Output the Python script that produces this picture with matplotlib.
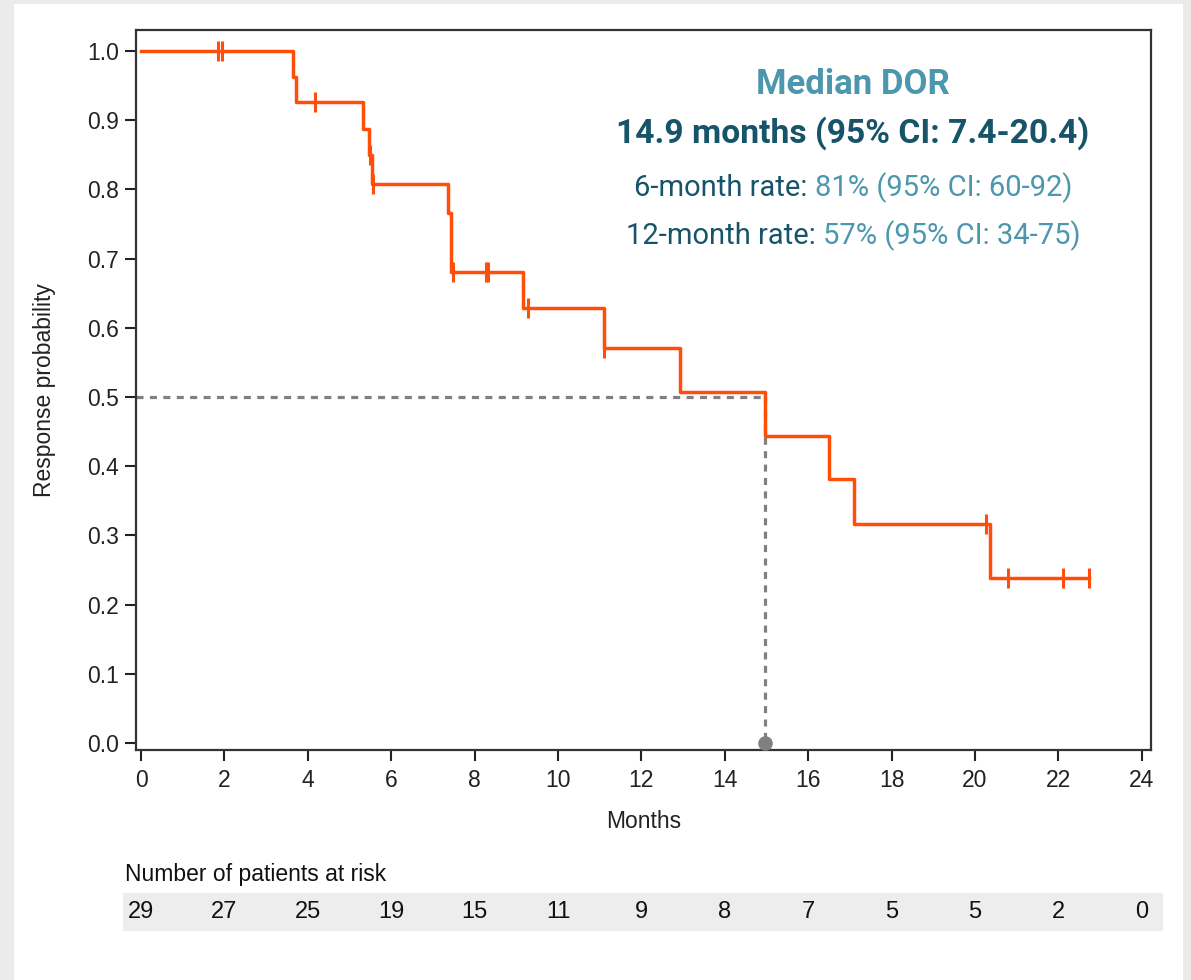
import matplotlib
matplotlib.use("Agg")
from matplotlib import pyplot as plt
from matplotlib.patches import Rectangle
from matplotlib.transforms import blended_transform_factory

# step curve (time in months, response probability)
step_times = [0, 3.65, 3.71, 5.32, 5.46, 5.55, 7.37, 7.43, 9.15, 11.11, 12.93, 14.96, 16.50, 17.10, 20.36]
step_probs = [1.0, 0.963, 0.926, 0.887, 0.849, 0.808, 0.766, 0.681, 0.628, 0.571, 0.507, 0.444, 0.381, 0.317, 0.238]
last_time = 22.73

# censored observations
cens_times = [1.85, 1.95, 4.17, 5.50, 5.57, 7.47, 8.27, 8.31, 9.27, 11.11, 20.26, 20.78, 22.10, 22.73]
cens_probs = [1.0, 1.0, 0.926, 0.849, 0.808, 0.681, 0.681, 0.681, 0.628, 0.571, 0.317, 0.238, 0.238, 0.238]

median_time = 14.96

risk_months = [0, 2, 4, 6, 8, 10, 12, 14, 16, 18, 20, 22, 24]
at_risk = [29, 27, 25, 19, 15, 11, 9, 8, 7, 5, 5, 2, 0]

title_lines = ["Median DOR", "14.9 months (95% CI: 7.4-20.4)"]
rate_labels = ["6-month rate: ", "12-month rate: "]
rate_values = ["81% (95% CI: 60-92)", "57% (95% CI: 34-75)"]

orange = "#ff4e0a"
teal_light = "#4c97ad"
teal_dark = "#17546a"
grey = "#808080"

plt.rcParams['font.family'] = ['Liberation Sans', 'DejaVu Sans']
roboto = ['Roboto', 'Liberation Sans', 'DejaVu Sans']

W, H = 1191, 980
fig = plt.figure(figsize=(W / 100, H / 100), dpi=100, facecolor="#ebebeb")

# white card on the grey frame
fig.patches.append(Rectangle((14 / W, 0), (1183 - 14) / W, 1 - 4 / H,
                             transform=fig.transFigure, facecolor="white",
                             edgecolor="none", zorder=-3))

ax = fig.add_axes([136 / W, 1 - 750 / H, (1151 - 136) / W, (750 - 30) / H])
ax.set_zorder(2)
ax.set_xlim(-0.12, 24.22)
ax.set_ylim(-0.0101, 1.0303)

xs = step_times + [last_time]
ys = step_probs + [step_probs[-1]]
ax.step(xs, ys, where='post', color=orange, lw=2.5, zorder=3)
ax.plot(cens_times, cens_probs, ls='none', marker='|', markersize=15,
        markeredgewidth=2.2, color=orange, zorder=3)

# median reference lines
ax.plot([-0.12, median_time], [0.5, 0.5], color=grey, lw=2.3,
        dashes=(2.2, 2.0), zorder=2)
ax.plot([median_time, median_time], [0.5, 0.0], color=grey, lw=2.3,
        dashes=(2.2, 2.0), zorder=2)
ax.plot([median_time], [0.0], marker='o', markersize=9.5, color=grey,
        clip_on=False, zorder=4)

ax.set_xticks(risk_months)
ax.set_yticks([i / 10 for i in range(11)])
ax.set_yticklabels([f"{i / 10:.1f}" for i in range(11)])
ax.tick_params(axis='both', direction='out', labelsize=16.5, colors='#222222',
               width=1.5, length=8)
ax.tick_params(axis='y', pad=4)
ax.tick_params(axis='x', pad=6)
for s in ax.spines.values():
    s.set_linewidth(1.6)
    s.set_color('#333333')

fig.text(643.5 / W, 1 - 822 / H, "Months", ha='center', va='center',
         fontsize=16.5, color='#222222')
fig.text(45 / W, 1 - 390 / H, "Response probability", ha='center', va='center',
         rotation=90, fontsize=16.5, color='#222222')

# annotation block
cx = 853 / W
fig.text(cx, 1 - 85 / H, title_lines[0], ha='center', va='center', fontsize=25,
         fontweight='bold', color=teal_light, family=roboto, zorder=5)
fig.text(cx, 1 - 133 / H, title_lines[1], ha='center', va='center', fontsize=24.2,
         fontweight='bold', color=teal_dark, family=roboto, zorder=5)

rate_texts = []
for i, yy in enumerate([188, 236]):
    t1 = fig.text(0, 1 - yy / H, rate_labels[i], ha='left', va='center',
                  fontsize=21, color=teal_dark, family=roboto, zorder=5)
    t2 = fig.text(0, 1 - yy / H, rate_values[i], ha='left', va='center',
                  fontsize=21, color=teal_light, family=roboto, zorder=5)
    rate_texts.append((t1, t2))

fig.canvas.draw()
r = fig.canvas.get_renderer()
for t1, t2 in rate_texts:
    w1 = t1.get_window_extent(r).width
    w2 = t2.get_window_extent(r).width
    left = 853 - (w1 + w2) / 2
    t1.set_x(left / W)
    t2.set_x((left + w1) / W)

# number at risk table
fig.text(125 / W, 1 - 874 / H, "Number of patients at risk", ha='left',
         va='center', fontsize=16.5, color='#111111')
fig.patches.append(Rectangle((123 / W, 1 - 931 / H), (1163 - 123) / W, 38 / H,
                             transform=fig.transFigure, facecolor="#ededed",
                             edgecolor="none", zorder=-2))
trans = blended_transform_factory(ax.transData, fig.transFigure)
for m, n in zip(risk_months, at_risk):
    fig.text(m, 1 - 912 / H, str(n), transform=trans, ha='center', va='center',
             fontsize=17, color='#111111')

plt.savefig("out.png", dpi=100, facecolor=fig.get_facecolor())
